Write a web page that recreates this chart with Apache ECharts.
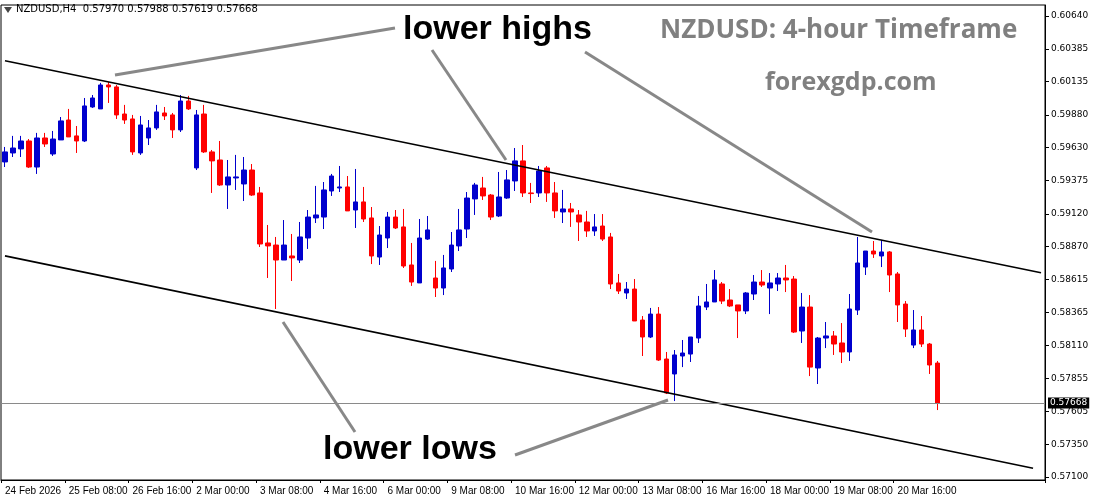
<!DOCTYPE html>
<html><head><meta charset="utf-8">
<script src="https://cdn.jsdelivr.net/npm/echarts@6/dist/echarts.min.js"></script>
<style>html,body{margin:0;padding:0;background:#fff}#c{width:1093px;height:501px}</style>
</head><body><div id="c"></div>
<script>
const opens=[0.59519,0.59588,0.59619,0.59680,0.59480,0.59703,0.59580,0.59688,0.59841,0.59719,0.59680,0.59941,0.59926,0.60110,0.60095,0.59887,0.59849,0.59588,0.59703,0.59780,0.59895,0.59880,0.59765,0.59987,0.59473,0.59887,0.59596,0.59534,0.59342,0.59396,0.59350,0.59457,0.59281,0.58897,0.58881,0.58766,0.58797,0.58766,0.58935,0.59089,0.59096,0.59296,0.59319,0.59327,0.59150,0.59212,0.59089,0.58789,0.58935,0.59096,0.59020,0.58728,0.58590,0.58927,0.58628,0.58551,0.58697,0.58874,0.59004,0.59235,0.59319,0.59265,0.59104,0.59242,0.59373,0.59527,0.59281,0.59281,0.59473,0.59281,0.59135,0.59158,0.59112,0.59058,0.58989,0.59027,0.58943,0.58590,0.58513,0.58543,0.58305,0.58175,0.58351,0.58006,0.57891,0.58029,0.58044,0.58167,0.58405,0.58444,0.58582,0.58459,0.58421,0.58375,0.58505,0.58597,0.58551,0.58582,0.58628,0.58620,0.58221,0.58405,0.57937,0.58167,0.58183,0.58129,0.58060,0.58382,0.58712,0.58835,0.58797,0.58828,0.58659,0.58428,0.58113,0.58229,0.58121,0.57975];
const closes=[0.59596,0.59626,0.59680,0.59480,0.59703,0.59657,0.59695,0.59834,0.59711,0.59680,0.59949,0.60010,0.60110,0.60095,0.59880,0.59841,0.59596,0.59803,0.59780,0.59903,0.59872,0.59765,0.59987,0.59926,0.59880,0.59596,0.59527,0.59342,0.59404,0.59404,0.59457,0.59265,0.58889,0.58874,0.58766,0.58881,0.58782,0.58943,0.59096,0.59112,0.59304,0.59411,0.59327,0.59143,0.59212,0.59081,0.58797,0.58958,0.59096,0.59012,0.58720,0.58597,0.58935,0.58997,0.58551,0.58705,0.58881,0.58997,0.59242,0.59342,0.59258,0.59096,0.59250,0.59381,0.59527,0.59281,0.59276,0.59450,0.59281,0.59143,0.59158,0.59135,0.59058,0.58989,0.59020,0.58927,0.58582,0.58528,0.58543,0.58298,0.58175,0.58351,0.57998,0.57745,0.58037,0.58052,0.58175,0.58413,0.58444,0.58613,0.58451,0.58413,0.58375,0.58513,0.58597,0.58574,0.58590,0.58628,0.58613,0.58213,0.58405,0.57944,0.58167,0.58183,0.58121,0.58060,0.58390,0.58743,0.58835,0.58812,0.58828,0.58651,0.58421,0.58236,0.58229,0.58121,0.57960,0.57668];
const lows=[0.59480,0.59557,0.59557,0.59473,0.59427,0.59634,0.59565,0.59688,0.59711,0.59588,0.59672,0.59934,0.59926,0.59972,0.59849,0.59811,0.59573,0.59573,0.59649,0.59765,0.59841,0.59703,0.59749,0.59918,0.59457,0.59588,0.59281,0.59335,0.59158,0.59304,0.59219,0.59258,0.58866,0.58628,0.58390,0.58766,0.58605,0.58743,0.58851,0.59050,0.59004,0.59258,0.59288,0.59143,0.59012,0.59058,0.58735,0.58728,0.58858,0.59004,0.58705,0.58567,0.58590,0.58920,0.58482,0.58497,0.58674,0.58835,0.58935,0.59112,0.59227,0.59073,0.59096,0.59235,0.59296,0.59250,0.59204,0.59250,0.59212,0.59089,0.59050,0.59020,0.58912,0.58943,0.58951,0.58912,0.58543,0.58505,0.58467,0.58298,0.58029,0.58167,0.57991,0.57737,0.57683,0.57944,0.57983,0.58129,0.58382,0.58444,0.58428,0.58405,0.58167,0.58351,0.58459,0.58559,0.58351,0.58528,0.58520,0.58206,0.58129,0.57875,0.57814,0.58090,0.58037,0.57975,0.57991,0.58344,0.58651,0.58782,0.58712,0.58520,0.58290,0.58175,0.58090,0.58098,0.57891,0.57614];
const highs=[0.59634,0.59719,0.59719,0.59695,0.59742,0.59742,0.59757,0.59864,0.59926,0.59795,0.60010,0.60033,0.60126,0.60133,0.60110,0.59957,0.59880,0.59872,0.59841,0.59957,0.59941,0.59895,0.60033,0.60026,0.59918,0.59957,0.59611,0.59680,0.59534,0.59573,0.59557,0.59503,0.59327,0.59035,0.58943,0.59073,0.58966,0.59058,0.59150,0.59335,0.59365,0.59427,0.59488,0.59411,0.59465,0.59327,0.59173,0.59027,0.59135,0.59150,0.59158,0.58897,0.59081,0.59104,0.58759,0.58805,0.58981,0.59158,0.59288,0.59358,0.59404,0.59273,0.59442,0.59457,0.59626,0.59649,0.59358,0.59488,0.59488,0.59365,0.59304,0.59204,0.59150,0.59143,0.59119,0.59119,0.58974,0.58659,0.58597,0.58620,0.58336,0.58398,0.58405,0.58060,0.58075,0.58152,0.58175,0.58490,0.58582,0.58689,0.58597,0.58543,0.58421,0.58520,0.58651,0.58689,0.58666,0.58666,0.58728,0.58643,0.58513,0.58497,0.58175,0.58290,0.58221,0.58282,0.58505,0.58943,0.58835,0.58912,0.58920,0.58835,0.58674,0.58451,0.58382,0.58336,0.58129,0.57991];
const xLabels=['24 Feb 2026','25 Feb 08:00','26 Feb 16:00','2 Mar 00:00','3 Mar 08:00','4 Mar 16:00','6 Mar 00:00','9 Mar 08:00','10 Mar 16:00','12 Mar 00:00','13 Mar 08:00','16 Mar 16:00','18 Mar 00:00','19 Mar 08:00','20 Mar 16:00'];
const yTicks=[0.60640,0.60385,0.60135,0.59880,0.59630,0.59375,0.59120,0.58870,0.58615,0.58365,0.58110,0.57855,0.57605,0.57350,0.57100];
const upperLine=[[0,0.60296],[130,0.58668]];
const lowerLine=[[0,0.58798],[129,0.57167]];
const lastPrice=0.57668;
const totalSlots=131;

const cats=[];for(let i=0;i<totalSlots;i++){cats.push(i%8===0&&xLabels[i/8]?xLabels[i/8]:'c'+i);}
const data=opens.map((o,i)=>[o,closes[i],lows[i],highs[i]]);
const chart=echarts.init(document.getElementById('c'));
const ff='Tahoma, "DejaVu Sans", sans-serif';
const fx='"Liberation Sans", Arial, sans-serif';
chart.setOption({
 animation:false,
 grid:{left:1,right:48,top:5,bottom:21,show:true,borderColor:'#000',borderWidth:1},
 xAxis:{type:'category',data:cats,boundaryGap:true,
  axisLine:{lineStyle:{color:'#000'}},
  axisTick:{show:true,length:3,lineStyle:{color:'#000'},interval:(i)=>i%8===0&&i<120},
  axisLabel:{color:'#000',fontSize:10,fontFamily:fx,align:'left',margin:6,hideOverlap:false,showMaxLabel:true,interval:(i)=>i%8===0&&i<120,formatter:(v)=>v.startsWith('c')?'':v},
  splitLine:{show:false}},
 yAxis:{type:'value',position:'right',min:0.57077,max:0.60724,scale:true,
  axisLine:{show:true,lineStyle:{color:'#000'}},
  axisTick:{show:true,length:4,customValues:yTicks,lineStyle:{color:'#000'}},
  axisLabel:{color:'#000',fontSize:9,fontFamily:ff,margin:6,customValues:yTicks,formatter:(v)=>v.toFixed(5)},
  splitLine:{show:false}},
 series:[{type:'candlestick',data:data,barWidth:5,
   itemStyle:{color:'#0000CD',color0:'#FF0000',borderColor:'#0000CD',borderColor0:'#FF0000',borderWidth:1},
   markLine:{symbol:'none',silent:true,label:{show:false},animation:false,
    data:[
     [{coord:upperLine[0],lineStyle:{color:'#000',width:1.6,type:'solid'}},{coord:upperLine[1]}],
     [{coord:lowerLine[0],lineStyle:{color:'#000',width:1.6,type:'solid'}},{coord:lowerLine[1]}],
     [{coord:[0,lastPrice],x:1,lineStyle:{color:'#8a8a8a',width:1,type:'solid'},
      label:{show:true,position:'end',formatter:()=>lastPrice.toFixed(5),color:'#fff',backgroundColor:'#000',fontSize:9,fontFamily:ff,padding:[1,2],distance:3}},
      {coord:[130,lastPrice],x:1045}]
    ]}}
 ],
 graphic:[
  {type:'text',left:16,top:4,style:{text:'NZDUSD,H4  0.57970 0.57988 0.57619 0.57668',fontSize:10,fontFamily:ff,fill:'#000'}},
  {type:'polygon',shape:{points:[[4,7],[12,7],[8,13]]},style:{fill:'#444'}},
  {type:'line',shape:{x1:115,y1:75,x2:395,y2:28},style:{stroke:'#888',lineWidth:3}},
  {type:'line',shape:{x1:432,y1:50,x2:506,y2:160},style:{stroke:'#888',lineWidth:3}},
  {type:'line',shape:{x1:585,y1:52,x2:872,y2:232},style:{stroke:'#888',lineWidth:3}},
  {type:'line',shape:{x1:283,y1:322,x2:355,y2:432},style:{stroke:'#888',lineWidth:3}},
  {type:'line',shape:{x1:515,y1:455,x2:668,y2:400},style:{stroke:'#888',lineWidth:3}},
  {type:'text',left:403,top:13,style:{text:'lower highs',fontSize:34,fontWeight:'bold',fontFamily:fx,fill:'#000'}},
  {type:'text',left:323,top:433,style:{text:'lower lows',fontSize:34,fontWeight:'bold',fontFamily:fx,fill:'#000'}},
  {type:'text',left:660,top:18,style:{text:'NZDUSD: 4-hour Timeframe',fontSize:26,fontWeight:'bold',fontFamily:'"Open Sans", "DejaVu Sans", sans-serif',fill:'#808080'}},
  {type:'text',left:765,top:70,style:{text:'forexgdp.com',fontSize:25,fontWeight:'bold',fontFamily:'"Open Sans", "DejaVu Sans", sans-serif',fill:'#808080'}}
 ]
});
</script></body></html>
